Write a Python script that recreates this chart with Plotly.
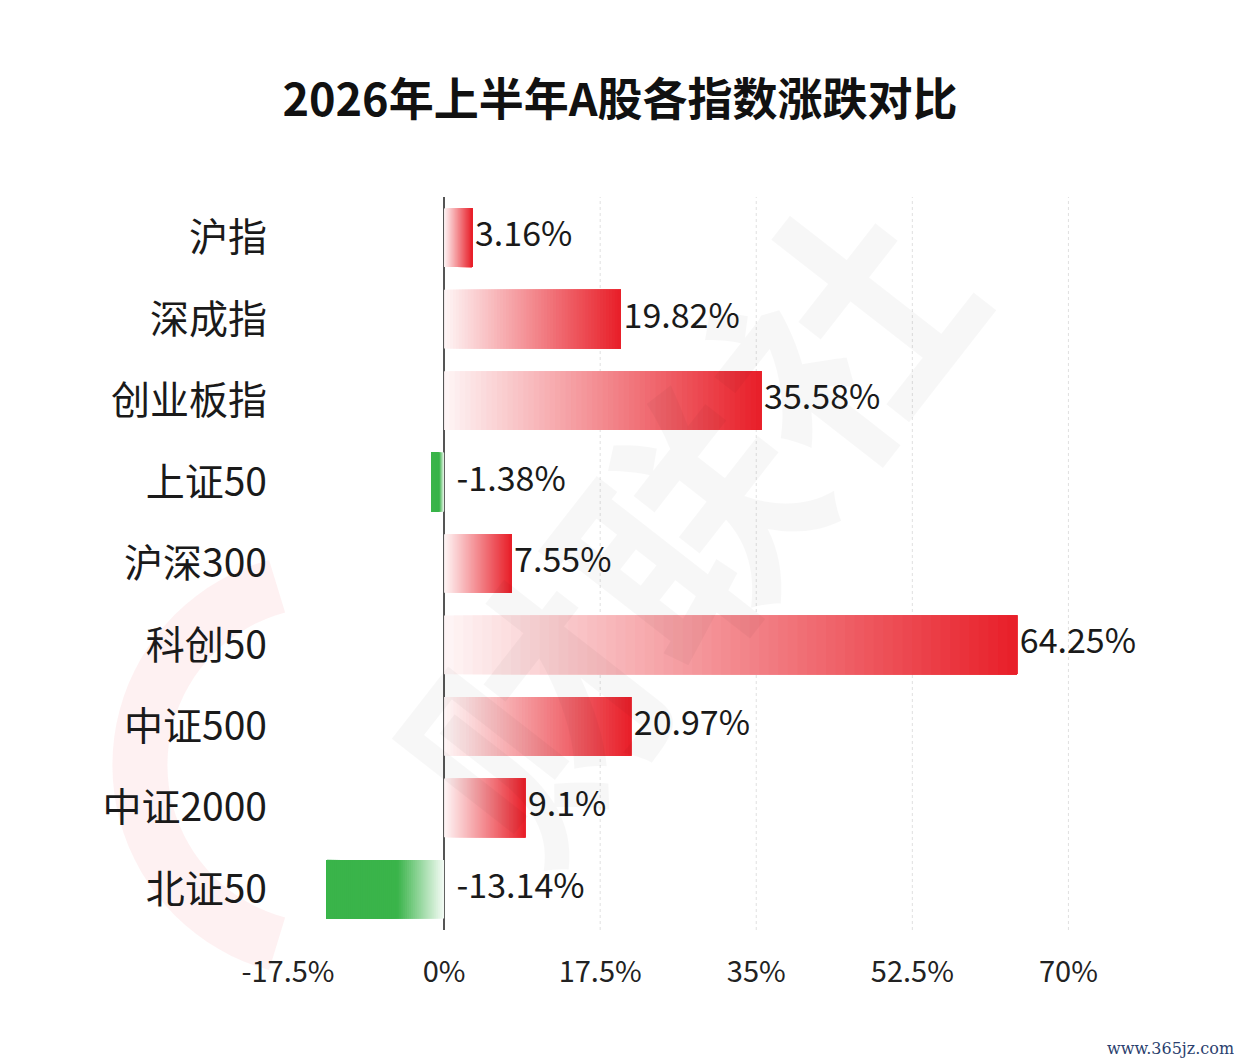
import math
import plotly.graph_objects as go

# ---- data ----
categories = ["沪指", "深成指", "创业板指", "上证50", "沪深300", "科创50", "中证500", "中证2000", "北证50"]
changes = [3.16, 19.82, 35.58, -1.38, 7.55, 64.25, 20.97, 9.1, -13.14]
tick_values = [-17.5, 0, 17.5, 35, 52.5, 70]
tick_labels = ["-17.5%", "0%", "17.5%", "35%", "52.5%", "70%"]
title_text = "2026年上半年A股各指数涨跌对比"

RED = (232, 30, 40)
GREEN = (58, 180, 74)
FONT = "Noto Sans CJK SC"

# page has an 8px body margin, so the figure is drawn 8px smaller and shifted
W, H = 1234, 1055
ML, MT, MB = 280, 189, 133
PW = 824.6
MR = W - ML - PW
PH = H - MT - MB


def mix(rgb, a):
    r, g, b = rgb
    return "rgb(%d,%d,%d)" % (round(255 + (r - 255) * a), round(255 + (g - 255) * a), round(255 + (b - 255) * a))


def red_alpha(t):
    return 0.04 + 0.96 * t


def green_alpha(t):
    return min(1.0, 0.05 + t / 0.42)


def px_to_paper(X, Y):
    # reference-picture pixels -> paper coordinates
    return (X - 8 - ML) / PW, (MT + PH - (Y - 8)) / PH


fig = go.Figure()

# gradient bars: layered segments, each starting further out along the bar
N = 60
for k in range(N):
    f0 = k / N
    t = (k + 0.5) / N
    bases = [v * f0 for v in changes]
    lengths = [v * (1 - f0) for v in changes]
    colors = [mix(RED, red_alpha(t)) if v >= 0 else mix(GREEN, green_alpha(t)) for v in changes]
    fig.add_trace(go.Bar(
        y=categories, x=lengths, base=bases, orientation="h",
        marker=dict(color=colors, line=dict(width=0)),
        width=0.72, hoverinfo="skip", showlegend=False,
    ))

# value labels
fig.add_trace(go.Scatter(
    y=categories, x=[v + 0.3 if v >= 0 else 1.4 for v in changes],
    text=[f"{v}%" for v in changes],
    mode="text", textposition="middle right",
    textfont=dict(family=FONT, size=34, color="#1a1a1a"),
    cliponaxis=False, showlegend=False, hoverinfo="skip",
))

# dotted vertical gridlines
for tv in tick_values:
    if tv > 0:
        fig.add_shape(type="line", xref="x", yref="paper", x0=tv, x1=tv, y0=0, y1=1,
                      line=dict(color="#e0e0e0", width=1, dash="dot"), layer="below")

# watermark: pink "C" arc
cx, cy, rad = 325, 765, 185
pts = []
for i in range(41):
    ang = math.radians(105 + (255 - 105) * i / 40)
    X = cx + rad * math.cos(ang)
    Y = cy - rad * math.sin(ang)
    pts.append(px_to_paper(X, Y))
path = "M " + " L ".join("%.4f,%.4f" % p for p in pts)
fig.add_shape(type="path", xref="paper", yref="paper", layer="below", path=path,
              line=dict(color="rgba(235,60,70,0.07)", width=55))

wx, wy = px_to_paper(680, 520)
fig.add_annotation(text="财联社", xref="paper", yref="paper", x=wx, y=wy,
                   xanchor="center", yanchor="middle",
                   showarrow=False, textangle=-52,
                   font=dict(family=FONT, size=245, color="rgba(0,0,0,0.03)", weight="bold"))

sx, sy = px_to_paper(1236, 1048)
fig.add_annotation(text="www.365jz.com", xref="paper", yref="paper", x=sx, y=sy,
                   xanchor="right", yanchor="middle", showarrow=False,
                   font=dict(family="DejaVu Serif", size=16, color="#2b3f6e"))

fig.update_layout(
    width=W, height=H,
    paper_bgcolor="white", plot_bgcolor="rgba(0,0,0,0)",
    margin=dict(l=ML, r=MR, t=MT, b=MB, autoexpand=False),
    barmode="overlay",
    title=dict(text=title_text, x=(620 - 8) / W, xref="container", xanchor="center",
               y=1 - (100 - 8) / H, yref="container", yanchor="middle",
               font=dict(family=FONT, size=45, color="#111111", weight="bold")),
    font=dict(family=FONT, color="#222222"),
    xaxis=dict(range=[-17.5, 75], tickvals=tick_values, ticktext=tick_labels,
               showgrid=False, zeroline=True, zerolinecolor="#555555", zerolinewidth=1.5,
               showline=False, ticks="", ticklabelstandoff=22,
               tickfont=dict(family=FONT, size=29, color="#222222")),
    yaxis=dict(autorange="reversed", showgrid=False, zeroline=False, showline=False,
               ticks="", ticklabelstandoff=20,
               tickfont=dict(family=FONT, size=39, color="#1a1a1a")),
)

fig.write_html("out.html")
